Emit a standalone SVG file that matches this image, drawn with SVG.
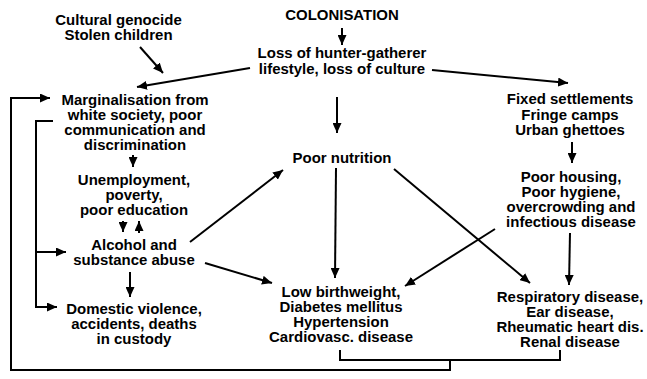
<svg xmlns="http://www.w3.org/2000/svg" width="647" height="379" viewBox="0 0 647 379">
<style>
.t{font-family:"Liberation Sans",Arial,Helvetica,sans-serif;font-weight:bold;font-size:14px;text-anchor:middle;fill:#000}
.c{fill:none;stroke:#000;stroke-width:2}
.a{fill:none;stroke:#000;stroke-width:2;marker-end:url(#ah)}
</style>
<defs>
<marker id="ah" markerUnits="userSpaceOnUse" markerWidth="11" markerHeight="9" refX="10" refY="4.5" orient="auto">
<path d="M0,0 L10,4.5 L0,9 z" fill="#000"/>
</marker>
</defs>
<rect width="647" height="379" fill="#fff"/>
<g id="connectors">
<line class="a" x1="342" y1="28" x2="342" y2="45"/>
<line class="a" x1="140" y1="47" x2="163" y2="73"/>
<line class="a" x1="250" y1="68" x2="137" y2="87"/>
<line class="a" x1="432" y1="70" x2="568" y2="83"/>
<line class="a" x1="337" y1="97" x2="337" y2="133"/>
<line class="a" x1="572" y1="142" x2="572" y2="163"/>
<line class="a" x1="133" y1="155" x2="133" y2="167"/>
<line class="a" x1="123" y1="221" x2="123" y2="232"/>
<line class="a" x1="139" y1="233" x2="139" y2="221"/>
<line class="a" x1="190" y1="242" x2="283" y2="170"/>
<line class="a" x1="205" y1="263" x2="272" y2="283"/>
<line class="a" x1="130" y1="272" x2="130" y2="297"/>
<line class="a" x1="336" y1="168" x2="335" y2="278"/>
<line class="a" x1="394" y1="169" x2="530" y2="283"/>
<line class="a" x1="495" y1="229" x2="405" y2="286"/>
<line class="a" x1="570" y1="233" x2="569" y2="285"/>
<path class="a" d="M53,121 H36 V307 H57"/>
<line class="a" x1="36" y1="252" x2="66" y2="252"/>
<path class="c" d="M340,350 V360 H560 V350"/>
<path class="a" d="M450,360 V370 H11 V98 H50"/>
</g>
<g id="n_colonisation" transform="translate(342,0) scale(1.07,1)"><text class="t" x="0" y="20">COLONISATION</text></g>
<g id="n_cultural" transform="translate(118.5,0) scale(1.07,1)"><text class="t" x="0" y="25">Cultural genocide</text><text class="t" x="0" y="40">Stolen children</text></g>
<g id="n_loss" transform="translate(342,0) scale(1.07,1)"><text class="t" x="0" y="58">Loss of hunter-gatherer</text><text class="t" x="0" y="74">lifestyle, loss of culture</text></g>
<g id="n_marginalisation" transform="translate(135,0) scale(1.07,1)"><text class="t" x="0" y="105">Marginalisation from</text><text class="t" x="0" y="120">white society, poor</text><text class="t" x="0" y="135">communication and</text><text class="t" x="0" y="150">discrimination</text></g>
<g id="n_fixed" transform="translate(570,0) scale(1.07,1)"><text class="t" x="0" y="104">Fixed settlements</text><text class="t" x="0" y="120">Fringe camps</text><text class="t" x="0" y="135">Urban ghettoes</text></g>
<g id="n_nutrition" transform="translate(342,0) scale(1.07,1)"><text class="t" x="0" y="163">Poor nutrition</text></g>
<g id="n_unemployment" transform="translate(134,0) scale(1.07,1)"><text class="t" x="0" y="185">Unemployment,</text><text class="t" x="0" y="200">poverty,</text><text class="t" x="0" y="215">poor education</text></g>
<g id="n_housing" transform="translate(571,0) scale(1.07,1)"><text class="t" x="0" y="182">Poor housing,</text><text class="t" x="0" y="197">Poor hygiene,</text><text class="t" x="0" y="212">overcrowding and</text><text class="t" x="0" y="227">infectious disease</text></g>
<g id="n_alcohol" transform="translate(134,0) scale(1.07,1)"><text class="t" x="0" y="250">Alcohol and</text><text class="t" x="0" y="265">substance abuse</text></g>
<g id="n_domestic" transform="translate(134,0) scale(1.07,1)"><text class="t" x="0" y="314">Domestic violence,</text><text class="t" x="0" y="329">accidents, deaths</text><text class="t" x="0" y="344">in custody</text></g>
<g id="n_lowbirth" transform="translate(341,0) scale(1.07,1)"><text class="t" x="0" y="297">Low birthweight,</text><text class="t" x="0" y="312">Diabetes mellitus</text><text class="t" x="0" y="327">Hypertension</text><text class="t" x="0" y="342">Cardiovasc. disease</text></g>
<g id="n_respiratory" transform="translate(570,0) scale(1.07,1)"><text class="t" x="0" y="302">Respiratory disease,</text><text class="t" x="0" y="317">Ear disease,</text><text class="t" x="0" y="332">Rheumatic heart dis.</text><text class="t" x="0" y="347">Renal disease</text></g>
</svg>
